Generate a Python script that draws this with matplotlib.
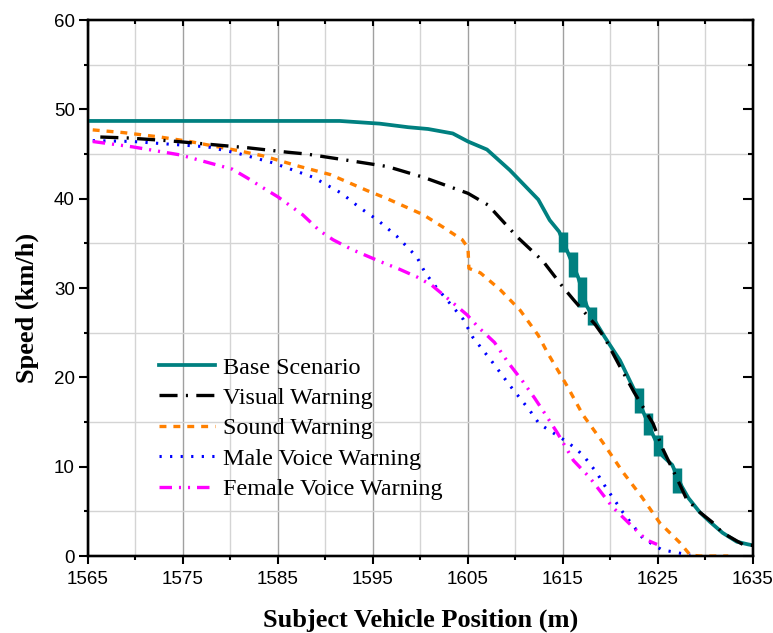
import matplotlib
matplotlib.use("Agg")
import matplotlib.pyplot as plt
from matplotlib.ticker import MultipleLocator

# Data ------------------------------------------------------
base_x = [1565, 1591.5, 1595.7, 1598.7, 1600.8, 1603.4, 1605, 1607, 1609.4, 1612.4, 1613.6,
          1614.6, 1615.5, 1616.6, 1617.5, 1618.6, 1619.4, 1621, 1622.5, 1623.5, 1624.5, 1625.5,
          1626.5, 1627.5, 1628.2, 1629.4, 1630.5, 1631.8, 1633.3, 1634.5, 1635]
base_y = [48.7, 48.7, 48.4, 48.0, 47.8, 47.3, 46.4, 45.5, 43.2, 39.9, 37.6,
          36.3, 34.0, 31.2, 28.0, 25.9, 24.5, 21.9, 18.6, 16.0, 13.5, 11.2,
          10.2, 7.8, 6.5, 4.9, 3.8, 2.6, 1.6, 1.3, 1.2]

# thick vertical steps drawn on the base curve
step_x = [1615.05, 1616.05, 1617.05, 1618.05, 1623.05, 1624.0, 1625.0, 1627.05]
step_top = [36.3, 34.0, 31.2, 27.9, 18.8, 16.0, 13.5, 9.9]
step_bot = [34.0, 31.2, 27.9, 25.9, 16.0, 13.5, 11.2, 7.1]

vis_x = [1566.3, 1569.1, 1573.3, 1577.6, 1581.8, 1586, 1588, 1592.3, 1596.5, 1600.3, 1605,
         1607.1, 1610.2, 1612.9, 1615, 1616.1, 1618.4, 1619.4, 1621, 1622.5, 1624.5, 1625.5,
         1627.3, 1628, 1629.4, 1630.7, 1631.8, 1634.1, 1635]
vis_y = [46.9, 46.8, 46.5, 46.1, 45.7, 45.2, 45.0, 44.3, 43.6, 42.4, 40.6,
         39.3, 35.7, 33.0, 30.1, 28.7, 25.9, 24.4, 21.2, 18.3, 14.8, 12.0,
         8.0, 6.4, 4.9, 3.8, 2.6, 1.2, 1.2]

snd_x = [1565.5, 1568.7, 1572.6, 1575.7, 1580.7, 1583.4, 1587.3, 1590.5, 1594.4, 1596.5, 1600.3,
         1602.4, 1604.4, 1605, 1605.1, 1606.3, 1608.4, 1610.5, 1612.4, 1613.4, 1615.4, 1617.1,
         1619.2, 1621.3, 1623.3, 1625.2, 1627.3, 1628.4, 1629.5, 1632.4]
snd_y = [47.7, 47.4, 46.9, 46.4, 45.4, 44.8, 43.6, 42.7, 40.9, 40.0, 38.2,
         36.8, 35.4, 34.5, 32.2, 31.7, 29.8, 27.5, 24.7, 22.7, 19.1, 15.8,
         12.7, 9.4, 6.6, 3.7, 1.5, 0.1, 0, 0]

male_x = [1565.5, 1569.7, 1573.6, 1577.6, 1580.7, 1584.5, 1588.7, 1591.7, 1593.6, 1595.5, 1597.5,
          1599.6, 1600.5, 1601.5, 1603.4, 1604.5, 1605.5, 1607.5, 1609.4, 1611.5, 1612.5, 1615.4,
          1616.5, 1617.4, 1618.5, 1619.5, 1621.3, 1623.4, 1625.4, 1628.4]
male_y = [46.5, 46.4, 46.1, 45.8, 45.1, 44.0, 42.4, 40.6, 39.0, 37.6, 35.8,
          33.5, 31.7, 30.3, 27.9, 26.5, 24.5, 21.8, 19.1, 16.3, 14.8, 12.8,
          11.9, 10.9, 9.4, 7.7, 4.9, 2.0, 0.7, 0.1]

fem_x = [1565.5, 1569.7, 1574.7, 1580.2, 1581.8, 1583.3, 1585, 1587.6, 1589.4, 1590.8, 1592.8,
         1595.9, 1597.8, 1599.7, 1601.2, 1602.9, 1604.9, 1606.1, 1607.8, 1609.2, 1610.8, 1612,
         1613, 1614.4, 1616.1, 1617.8, 1620.2, 1622.4, 1623.8, 1624.9]
fem_y = [46.4, 45.8, 44.9, 43.3, 42.3, 41.3, 40.2, 38.2, 36.4, 35.4, 34.3,
         32.9, 32.1, 31.2, 30.3, 28.8, 27.0, 25.6, 23.9, 21.7, 19.5, 17.7,
         16.1, 13.8, 10.7, 8.8, 5.5, 3.2, 1.8, 1.3]

labels = ["Base Scenario", "Visual Warning", "Sound Warning",
          "Male Voice Warning", "Female Voice Warning"]

# Figure -------------------------
plt.rcParams["lines.scale_dashes"] = False
plt.rcParams["font.family"] = ["Liberation Sans", "DejaVu Sans"]
fig = plt.figure(figsize=(7.73, 6.33), dpi=100)
ax = fig.add_axes([0.1138, 0.1216, 0.8603, 0.8468])

teal = "#008080"
ax.plot(base_x, base_y, color=teal, lw=2.7, label=labels[0], zorder=5)
ax.vlines(step_x, step_bot, step_top, color=teal, lw=6.8, zorder=5)
ax.plot(vis_x, vis_y, color="black", lw=2.4, linestyle=(0, (13, 6, 1.5, 6)),
        label=labels[1], zorder=6)
ax.plot(snd_x, snd_y, color="#FF8000", lw=2.4, linestyle=(0, (5, 5)),
        label=labels[2], zorder=4)
ax.plot(male_x, male_y, color="#0000FF", lw=2.2, linestyle=(0, (1.6, 6)),
        label=labels[3], zorder=4)
ax.plot(fem_x, fem_y, color="#FF00FF", lw=2.4, linestyle=(0, (9, 5, 1.5, 5, 1.5, 5)),
        label=labels[4], zorder=4)

# Axes limits, ticks, grid -------------------------
ax.set_xlim(1565, 1635)
ax.set_ylim(0, 60)
ax.xaxis.set_major_locator(MultipleLocator(10, offset=5))
ax.xaxis.set_minor_locator(MultipleLocator(5))
ax.yaxis.set_major_locator(MultipleLocator(10))
ax.yaxis.set_minor_locator(MultipleLocator(5))

ax.grid(which="major", axis="x", color="#a0a0a0", lw=1.0)
ax.grid(which="minor", axis="x", color="#d4d4d4", lw=1.0)
ax.grid(which="minor", axis="y", color="#d4d4d4", lw=1.0)
ax.set_axisbelow(True)

# outward ticks on bottom / left
ax.tick_params(axis="y", which="major", direction="out", length=6.5, width=1.5,
               labelsize=13.5, pad=3)
ax.tick_params(axis="x", which="major", direction="out", length=5.8, width=1.5,
               labelsize=13.5, pad=5)
ax.tick_params(which="minor", direction="out", length=3.2, width=1.5)

# inward ticks on top / right
ax_r = ax.twinx()
ax_r.set_ylim(0, 60)
ax_r.yaxis.set_major_locator(MultipleLocator(10))
ax_r.yaxis.set_minor_locator(MultipleLocator(5))
ax_r.tick_params(which="major", direction="in", length=7, width=1.5, labelright=False)
ax_r.tick_params(which="minor", direction="in", length=3.5, width=1.5)
ax_t = ax.twiny()
ax_t.set_xlim(1565, 1635)
ax_t.xaxis.set_major_locator(MultipleLocator(10, offset=5))
ax_t.xaxis.set_minor_locator(MultipleLocator(5))
ax_t.tick_params(which="major", direction="in", length=4.5, width=1.5, labeltop=False)
ax_t.tick_params(which="minor", direction="in", length=3, width=1.5)

for a in (ax, ax_r, ax_t):
    for sp in a.spines.values():
        sp.set_linewidth(1.6)

ax.set_xlabel("Subject Vehicle Position (m)", fontfamily="Liberation Serif",
              fontweight="bold", fontsize=19, labelpad=15)
ax.set_ylabel("Speed (km/h)", fontfamily="Liberation Serif",
              fontweight="bold", fontsize=19)
ax.yaxis.set_label_coords(-0.074, 0.463)

ax.legend(loc="upper left", bbox_to_anchor=(0.107, 0.372), frameon=False,
          prop={"family": "Liberation Serif", "size": 17.4},
          handlelength=2.3, handletextpad=0.35, labelspacing=0.35,
          borderpad=0, borderaxespad=0)

fig.savefig("out.png", dpi=100)
